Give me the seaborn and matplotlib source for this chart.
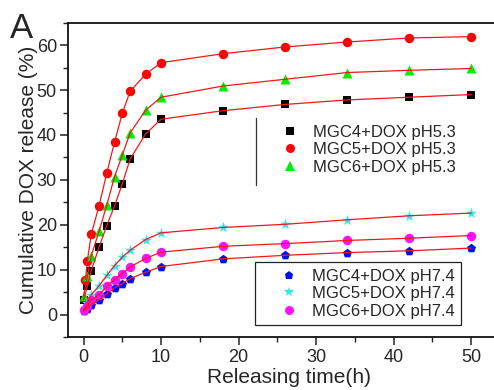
import numpy as np
import pandas as pd
import matplotlib
matplotlib.use("Agg")
import matplotlib.pyplot as plt
import seaborn as sns
from matplotlib.lines import Line2D
from matplotlib.ticker import MultipleLocator

# ---------------- data ----------------
times = [0, 0.5, 1, 2, 3, 4, 5, 6, 8, 10, 18, 26, 34, 42, 50]
times_mgc5_53 = [0.25, 0.5, 1, 2, 3, 4, 5, 6, 8, 10, 18, 26, 34, 42, 50]

mgc4_53 = [3.2, 6.3, 9.8, 15.0, 19.8, 24.2, 29.1, 34.6, 40.2, 43.5, 45.4, 46.8, 47.8, 48.4, 49.0]
mgc5_53 = [7.8, 12.0, 17.9, 24.2, 31.5, 38.4, 44.8, 49.7, 53.5, 56.1, 58.1, 59.6, 60.7, 61.6, 61.9]
mgc6_53 = [4.1, 8.5, 13.1, 18.5, 24.4, 30.7, 35.5, 40.4, 45.5, 48.4, 50.9, 52.4, 53.9, 54.4, 54.8]

mgc4_74 = [0.7, 1.3, 2.2, 3.3, 4.6, 5.9, 6.9, 8.0, 9.4, 10.7, 12.4, 13.2, 13.8, 14.2, 14.8]
mgc5_74 = [1.0, 2.5, 4.4, 6.4, 8.7, 10.9, 12.8, 14.3, 16.7, 18.2, 19.4, 20.1, 21.1, 22.0, 22.6]
mgc6_74 = [1.0, 1.8, 3.2, 4.4, 6.3, 7.8, 9.1, 10.6, 12.5, 13.9, 15.2, 15.8, 16.5, 17.0, 17.6]

labels_53 = ["MGC4+DOX pH5.3", "MGC5+DOX pH5.3", "MGC6+DOX pH5.3"]
labels_74 = ["MGC4+DOX pH7.4", "MGC5+DOX pH7.4", "MGC6+DOX pH7.4"]

xticks = [0, 10, 20, 30, 40, 50]
yticks = [0, 10, 20, 30, 40, 50, 60]

# ---------------- style ----------------
sns.set_style("ticks")
plt.rcParams["font.family"] = ["Liberation Sans", "DejaVu Sans"]

LINE = "#f01818"
series = [
    (times, mgc4_53, labels_53[0], "s", "#000000", 5.6),
    (times_mgc5_53, mgc5_53, labels_53[1], "o", "#ff0000", 6.8),
    (times, mgc6_53, labels_53[2], "^", "#00ee00", 7.2),
    (times, mgc4_74, labels_74[0], "p", "#0010ee", 6.8),
    (times, mgc5_74, labels_74[1], "*", "#30e8e8", 8.2),
    (times, mgc6_74, labels_74[2], "o", "#ff10ff", 6.8),
]

fig = plt.figure(figsize=(4.94, 3.90), dpi=100)
ax = fig.add_axes([68 / 494, 53 / 390, 442 / 494, 314.3 / 390])

handles = []
for t, v, lab, m, c, ms in series:
    df = pd.DataFrame({"t": t, "v": v})
    sns.scatterplot(data=df, x="t", y="v", ax=ax, marker=m, color=c,
                    s=ms ** 2, linewidth=0, edgecolor=c, zorder=2, legend=False)
    sns.lineplot(data=df, x="t", y="v", ax=ax, color=LINE, lw=0.9,
                 sort=False, estimator=None, zorder=3, legend=False)
    handles.append(Line2D([], [], ls="none", marker=m, color=c,
                          markeredgewidth=0, markersize=ms * 0.95, label=lab))

ax.set_xlim(-2, 55)
ax.set_ylim(-5, 65)
ax.set_xticks(xticks)
ax.set_yticks(yticks)
ax.xaxis.set_minor_locator(MultipleLocator(5))
ax.yaxis.set_minor_locator(MultipleLocator(5))
ax.tick_params(which="major", direction="out", length=6, width=1.1,
               labelsize=13, color="#222222", pad=3)
ax.tick_params(which="minor", direction="out", length=3.5, width=1.0, color="#222222")
ax.tick_params(axis="y", pad=2)
for sp in ax.spines.values():
    sp.set_linewidth(1.3)
    sp.set_color("#111111")

ax.set_xlabel("Releasing time(h)", fontsize=15, labelpad=1)
ax.set_ylabel("Cumulative DOX release (%)", fontsize=15, labelpad=-1)

fig.text(10 / 494, 1 - 38 / 390, "A", fontsize=25, va="baseline", ha="left")

common = dict(loc="upper left", bbox_transform=fig.transFigure, fontsize=12,
              borderpad=0.4, handlelength=3.27, handletextpad=-0.26,
              labelspacing=0.15, borderaxespad=0)
leg1 = ax.legend(handles=handles[:3], bbox_to_anchor=(256 / 494, 1 - 118 / 390),
                 frameon=False, **common)
ax.add_artist(leg1)
leg2 = ax.legend(handles=handles[3:], bbox_to_anchor=(255 / 494, 1 - 262 / 390),
                 frameon=True, fancybox=False, framealpha=1, edgecolor="#222222",
                 **common)
leg2.get_frame().set_linewidth(0.9)

fig.add_artist(Line2D([256 / 494, 256 / 494], [1 - 118 / 390, 1 - 185 / 390],
                      color="#333333", lw=0.9))

fig.savefig("out.png", dpi=100)
